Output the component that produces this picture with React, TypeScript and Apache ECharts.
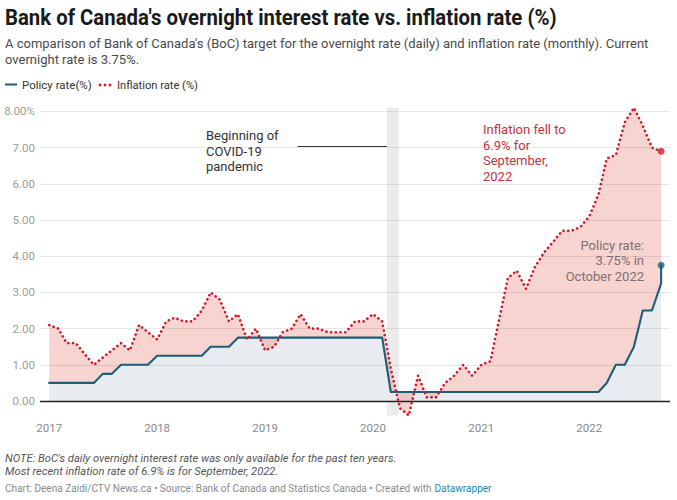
import React, { useEffect, useRef } from 'react';
import * as echarts from 'echarts';

// ---------- data ----------
const firstYear = 2017;
const monthCount = 69; // Jan 2017 .. Sep 2022
const months: string[] = [];
for (let i = 0; i < monthCount; i++) {
  const y = firstYear + Math.floor(i / 12);
  const m = (i % 12) + 1;
  months.push(`${y}-${String(m).padStart(2, '0')}-01`);
}

const yearLabels = ['2017', '2018', '2019', '2020', '2021', '2022'];

// CPI, year over year (%), monthly
const inflation = [
  2.1, 2.0, 1.6, 1.6, 1.3, 1.0, 1.2, 1.4, 1.6, 1.4, 2.1, 1.9,
  1.7, 2.2, 2.3, 2.2, 2.2, 2.5, 3.0, 2.8, 2.2, 2.4, 1.7, 2.0,
  1.4, 1.5, 1.9, 2.0, 2.4, 2.0, 2.0, 1.9, 1.9, 1.9, 2.2, 2.2,
  2.4, 2.2, 0.9, -0.2, -0.4, 0.7, 0.1, 0.1, 0.5, 0.7, 1.0, 0.7,
  1.0, 1.1, 2.2, 3.4, 3.6, 3.1, 3.7, 4.1, 4.4, 4.7, 4.7, 4.8,
  5.1, 5.7, 6.7, 6.8, 7.7, 8.1, 7.6, 7.0, 6.9,
];

// BoC overnight target (%), monthly
const policy = [
  0.5, 0.5, 0.5, 0.5, 0.5, 0.5, 0.75, 0.75, 1.0, 1.0, 1.0, 1.0,
  1.25, 1.25, 1.25, 1.25, 1.25, 1.25, 1.5, 1.5, 1.5, 1.75, 1.75, 1.75,
  1.75, 1.75, 1.75, 1.75, 1.75, 1.75, 1.75, 1.75, 1.75, 1.75, 1.75, 1.75,
  1.75, 1.75, 0.25, 0.25, 0.25, 0.25, 0.25, 0.25, 0.25, 0.25, 0.25, 0.25,
  0.25, 0.25, 0.25, 0.25, 0.25, 0.25, 0.25, 0.25, 0.25, 0.25, 0.25, 0.25,
  0.25, 0.25, 0.5, 1.0, 1.0, 1.5, 2.5, 2.5, 3.25,
];
const latestPolicy = 3.75; // October 2022

const yTicks = [0, 1, 2, 3, 4, 5, 6, 7, 8];
const yTickLabels = ['0.00', '1.00', '2.00', '3.00', '4.00', '5.00', '6.00', '7.00', '8.00%'];

const covidStart = '2020-02-17';
const covidEnd = '2020-03-28';
const covidNoteStart = '2019-04-21';
const covidNoteLevel = 7.05;

const xMin = '2016-12-01';
const xMax = '2022-10-01';
const yMin = -0.4;
const yMax = 8.1;

// ---------- colours ----------
const TEAL = '#1b5e78';
const RED = '#cc1a2c';
const FONT = 'Roboto';

const ts = (s: string) => {
  const [y, m, d] = s.split('-').map(Number);
  return new Date(y, m - 1, d).getTime();
};

function txt(x: number, y: number, text: string, opts: any = {}) {
  const style: any = {
    text,
    fontFamily: FONT,
    fontSize: opts.size ?? 13,
    fontWeight: opts.weight ?? 'normal',
    fontStyle: opts.style ?? 'normal',
    fill: opts.fill ?? '#333',
    textAlign: opts.align ?? 'left',
    textVerticalAlign: 'middle',
  };
  if (opts.rich) style.rich = opts.rich;
  return {
    type: 'text',
    x,
    y,
    scaleX: opts.scaleX ?? 1,
    silent: true,
    style,
  };
}

export default function App() {
  const ref = useRef<HTMLDivElement>(null);

  useEffect(() => {
    if (!ref.current) return;
    const chart = echarts.init(ref.current, undefined, { renderer: 'svg' });

    const mx = months.map(ts);
    const infPairs = mx.map((m, i) => [m, inflation[i]]);
    const polPairs = mx.map((m, i) => [m, policy[i]]);
    const bandRows = mx.map((m, i) => [m, inflation[i], policy[i]]);
    const lastMonth = mx[mx.length - 1];
    const polLine = [...polPairs, [lastMonth, latestPolicy]];

    const option: any = {
      animation: false,
      grid: { left: 40, right: 7, top: 107.8, bottom: 84.5 },
      xAxis: {
        type: 'value',
        min: ts(xMin),
        max: ts(xMax),
        axisLine: { show: false, onZero: false },
        axisTick: { show: false },
        splitLine: { show: false },
        axisLabel: {
          customValues: yearLabels.map((y) => ts(`${y}-01-01`)),
          formatter: (v: number) => String(new Date(v).getFullYear()),
          color: '#8a8a8a',
          fontSize: 11.5,
          fontFamily: FONT,
          margin: 6,
        },
      },
      yAxis: {
        type: 'value',
        min: yMin,
        max: yMax,
        axisLine: { show: false },
        axisTick: { show: false },
        axisLabel: { show: false },
        splitLine: { show: false },
      },
      series: [
        {
          type: 'custom',
          name: 'covid',
          silent: true,
          z: 1,
          encode: { x: [0, 1] },
          data: [[ts(covidStart), ts(covidEnd)]],
          renderItem: (params: any, api: any) => {
            const s = api.coord([api.value(0), yMax]);
            const e = api.coord([api.value(1), yMin]);
            return {
              type: 'rect',
              shape: { x: s[0], y: s[1], width: e[0] - s[0], height: e[1] - s[1] },
              style: { fill: '#ebebeb' },
            };
          },
        },
        {
          type: 'line',
          name: 'policyArea',
          silent: true,
          z: 2,
          symbol: 'none',
          data: polPairs,
          lineStyle: { width: 0, opacity: 0 },
          areaStyle: { color: '#e8ebef', opacity: 1 },
        },
        {
          // band between inflation and policy rate
          type: 'custom',
          name: 'gap',
          silent: true,
          z: 3,
          encode: { x: 0, y: [1, 2] },
          data: bandRows,
          renderItem: (params: any, api: any) => {
            if (params.dataIndexInside !== 0) return null;
            const n = params.dataInsideLength;
            const pts: number[][] = [];
            for (let i = 0; i < n; i++) pts.push(api.coord([api.value(0, i), api.value(1, i)]));
            for (let i = n - 1; i >= 0; i--) pts.push(api.coord([api.value(0, i), api.value(2, i)]));
            return {
              type: 'polygon',
              shape: { points: pts },
              style: { fill: 'rgba(232,136,122,0.36)' },
            };
          },
        },
        {
          type: 'line',
          name: 'grid',
          silent: true,
          z: 4,
          data: [],
          markLine: {
            silent: true,
            symbol: ['none', 'none'],
            animation: false,
            data: [
              ...yTicks.map((v, i) => ({
                yAxis: v,
                lineStyle: v === 0
                  ? { color: '#222', width: 1.3, type: 'solid' }
                  : { color: 'rgba(0,0,0,0.09)', width: 1, type: 'solid' },
                label: {
                  show: true,
                  position: 'start',
                  formatter: yTickLabels[i],
                  color: '#9c9c9c',
                  fontSize: 11.5,
                  fontFamily: FONT,
                  distance: 5,
                },
              })),
              [
                {
                  coord: [ts(covidNoteStart), covidNoteLevel],
                  lineStyle: { color: '#333', width: 1, type: 'solid' },
                  label: { show: false },
                },
                { coord: [ts(covidStart), covidNoteLevel] },
              ],
            ],
          },
        },
        {
          type: 'line',
          name: 'Policy rate(%)',
          silent: true,
          z: 5,
          symbol: 'none',
          data: polLine,
          lineStyle: { color: TEAL, width: 2.1, cap: 'round', join: 'round' },
        },
        {
          type: 'line',
          name: 'Inflation rate (%)',
          silent: true,
          z: 6,
          symbol: 'none',
          data: infPairs,
          lineStyle: { color: RED, width: 2.6, type: [0.1, 4.6], cap: 'round', join: 'round' },
        },
        {
          type: 'scatter',
          silent: true,
          z: 7,
          symbolSize: 7,
          data: [
            { value: [lastMonth, inflation[inflation.length - 1]], itemStyle: { color: RED } },
            { value: [lastMonth, latestPolicy], itemStyle: { color: TEAL } },
          ],
        },
      ],
      graphic: [
        txt(5, 17, "Bank of Canada's overnight interest rate vs. inflation rate (%)", {
          size: 22, weight: 'bold', fill: '#1a1a1a', scaleX: 0.925,
        }),
        txt(5, 43, "A comparison of Bank of Canada's (BoC) target for the overnight rate (daily) and inflation rate (monthly). Current", {
          size: 13, fill: '#4a4a4a', scaleX: 1,
        }),
        txt(5, 59, 'overnight rate is 3.75%.', { size: 13, fill: '#4a4a4a', scaleX: 1 }),
        {
          type: 'line',
          silent: true,
          shape: { x1: 5, y1: 84.5, x2: 17, y2: 84.5 },
          style: { stroke: TEAL, lineWidth: 2 },
        },
        txt(22, 85, 'Policy rate(%)', { size: 11.5, fill: '#333' }),
        { type: 'circle', silent: true, shape: { cx: 100, cy: 85, r: 1.4 }, style: { fill: RED } },
        { type: 'circle', silent: true, shape: { cx: 105, cy: 85, r: 1.4 }, style: { fill: RED } },
        { type: 'circle', silent: true, shape: { cx: 110, cy: 85, r: 1.4 }, style: { fill: RED } },
        txt(117, 85, 'Inflation rate (%)', { size: 11.5, fill: '#333', scaleX: 0.97 }),

        txt(206, 135, 'Beginning of', { size: 13, fill: '#333' }),
        txt(206, 151, 'COVID-19', { size: 13, fill: '#333' }),
        txt(206, 166.5, 'pandemic', { size: 13, fill: '#333' }),

        txt(483, 129, 'Inflation fell to', { size: 13, fill: '#c3343b' }),
        txt(483, 145, '6.9% for', { size: 13, fill: '#c3343b' }),
        txt(483, 160.5, 'September,', { size: 13, fill: '#c3343b' }),
        txt(483, 176, '2022', { size: 13, fill: '#c3343b' }),

        txt(644, 245, 'Policy rate:', { size: 13, fill: '#46616e', align: 'right' }),
        txt(644, 260.5, '3.75% in', { size: 13, fill: '#46616e', align: 'right' }),
        txt(644, 276, 'October 2022', { size: 13, fill: '#46616e', align: 'right' }),

        txt(5, 458, "NOTE: BoC's daily overnight interest rate was only available for the past ten years.", {
          size: 11.5, style: 'italic', fill: '#555', scaleX: 0.972,
        }),
        txt(5, 471, 'Most recent inflation rate of 6.9% is for September, 2022.', {
          size: 11.5, style: 'italic', fill: '#555', scaleX: 0.972,
        }),
        txt(5, 488, 'Chart: Deena Zaidi/CTV News.ca \u2022 Source: Bank of Canada and Statistics Canada \u2022 Created with {dw|Datawrapper}', {
          size: 11, fill: '#8a8a8a', scaleX: 0.915,
          rich: { dw: { fill: '#1d86b4', fontSize: 11, fontFamily: FONT } },
        }),
      ],
    };

    chart.setOption(option);
    return () => chart.dispose();
  }, []);

  return (
    <div
      ref={ref}
      style={{ position: 'fixed', left: 0, top: 0, width: 677, height: 500, background: '#fff' }}
    />
  );
}
